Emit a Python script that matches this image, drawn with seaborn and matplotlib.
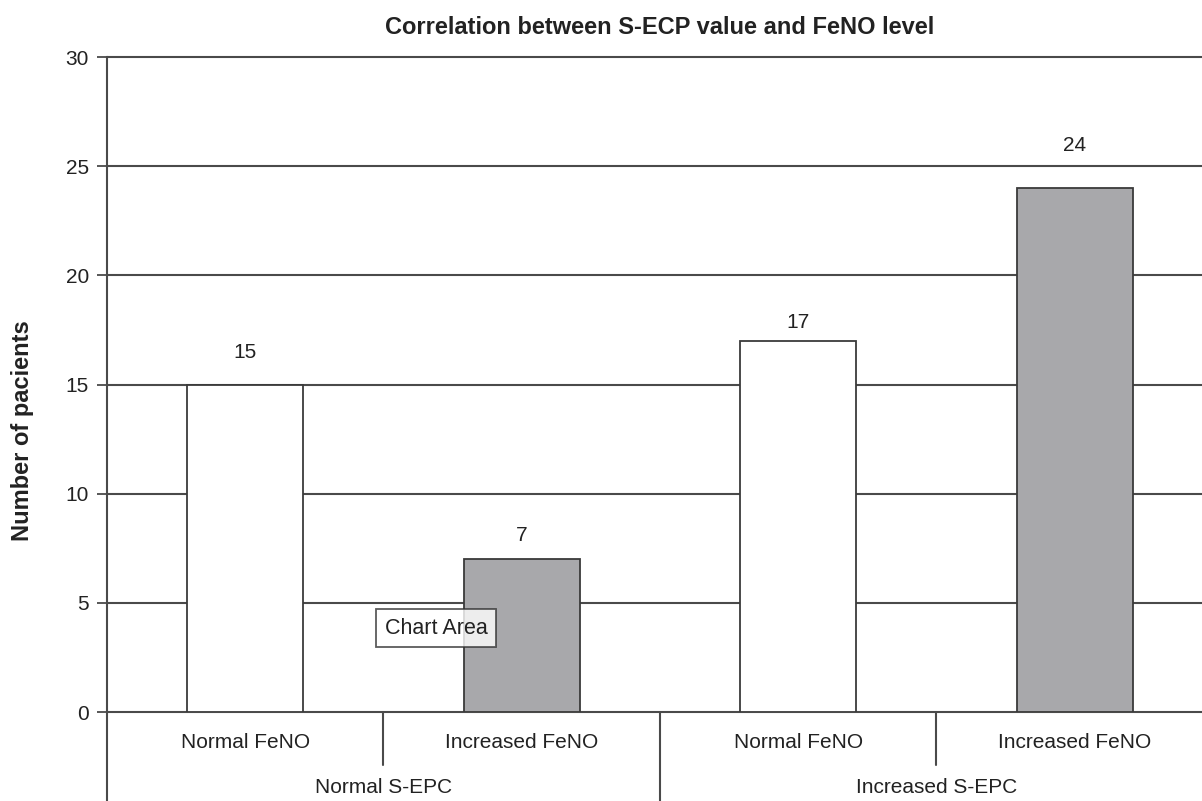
import matplotlib

matplotlib.use("Agg")
import matplotlib.pyplot as plt
import matplotlib.transforms as mtransforms
import pandas as pd
import seaborn as sns

# data
groups = ["Normal S-EPC", "Normal S-EPC", "Increased S-EPC", "Increased S-EPC"]
feno = ["Normal FeNO", "Increased FeNO", "Normal FeNO", "Increased FeNO"]
patients = [15, 7, 17, 24]
y_ticks = [0, 5, 10, 15, 20, 25, 30]

df = pd.DataFrame({"group": groups, "feno": feno, "n": patients})
df["cell"] = df["group"] + " / " + df["feno"]

sns.set_theme(style="white")
plt.rcParams["font.family"] = ["Liberation Sans", "DejaVu Sans"]

fig = plt.figure(figsize=(12.02, 8.01), dpi=100)
ax = fig.add_axes([0.089, 0.111, 0.920, 0.8177])

sns.barplot(data=df, x="cell", y="n", hue="feno", dodge=False, width=0.42,
            palette={"Normal FeNO": "white", "Increased FeNO": "#a8a7ac"},
            edgecolor="#3a3a3a", linewidth=1.3, legend=False, ax=ax, zorder=3)

line_c = "#4a4a4a"
ax.set_ylim(0, 30)
ax.set_xlim(-0.5, len(df) - 0.5)
ax.set_yticks(y_ticks)
ax.tick_params(axis="y", left=True, length=7, width=1.3, color=line_c,
               labelsize=15, labelcolor="#222222", pad=6)
ax.set_xticks([])
ax.set_xlabel("")
ax.set_ylabel("Number of pacients", fontsize=17, fontweight="bold",
              color="#222222")
ax.yaxis.set_label_coords(-0.066, 0.43)
for yv in y_ticks[1:]:
    ax.axhline(yv, color=line_c, lw=1.5, zorder=1, clip_on=False)
for side in ["top", "right"]:
    ax.spines[side].set_visible(False)
for side in ["left", "bottom"]:
    ax.spines[side].set_color(line_c)
    ax.spines[side].set_linewidth(1.5)

# bar value labels (the original placed them unevenly above the bars)
label_offsets = [23, 17, 13, 31]
for i, v in enumerate(df["n"]):
    ax.annotate(str(v), (i, v), xytext=(0, label_offsets[i]),
                textcoords="offset points", ha="center", va="center",
                fontsize=15, color="#222222")

# two-level category axis
tr = mtransforms.blended_transform_factory(ax.transData, ax.transAxes)
for i, lab in enumerate(df["feno"]):
    ax.text(i, -0.047, lab, transform=tr, ha="center", va="center",
            fontsize=15, color="#222222")
grp_names = list(dict.fromkeys(df["group"]))
for g in grp_names:
    idx = df.index[df["group"] == g]
    ax.text(idx.to_numpy().mean(), -0.115, g, transform=tr, ha="center",
            va="center", fontsize=15, color="#222222")
for i in range(len(df) + 1):
    x = i - 0.5
    boundary = i == 0 or i == len(df) or df["group"][i] != df["group"][i - 1]
    ax.plot([x, x], [0, -0.2 if boundary else -0.081], transform=tr,
            color=line_c, lw=1.5, clip_on=False)

ax.set_title("Correlation between S-ECP value and FeNO level", fontsize=17,
             fontweight="bold", color="#222222", pad=17)

# leftover "Chart Area" tooltip from the original screenshot
ax.text(0.69, 3.85, "Chart Area", ha="center", va="center", fontsize=15.5,
        color="#222222", zorder=5,
        bbox=dict(boxstyle="square,pad=0.4", fc="white", ec="#333333", lw=1.3,
                  alpha=0.8))

fig.savefig("out.png", dpi=100, facecolor="white")
